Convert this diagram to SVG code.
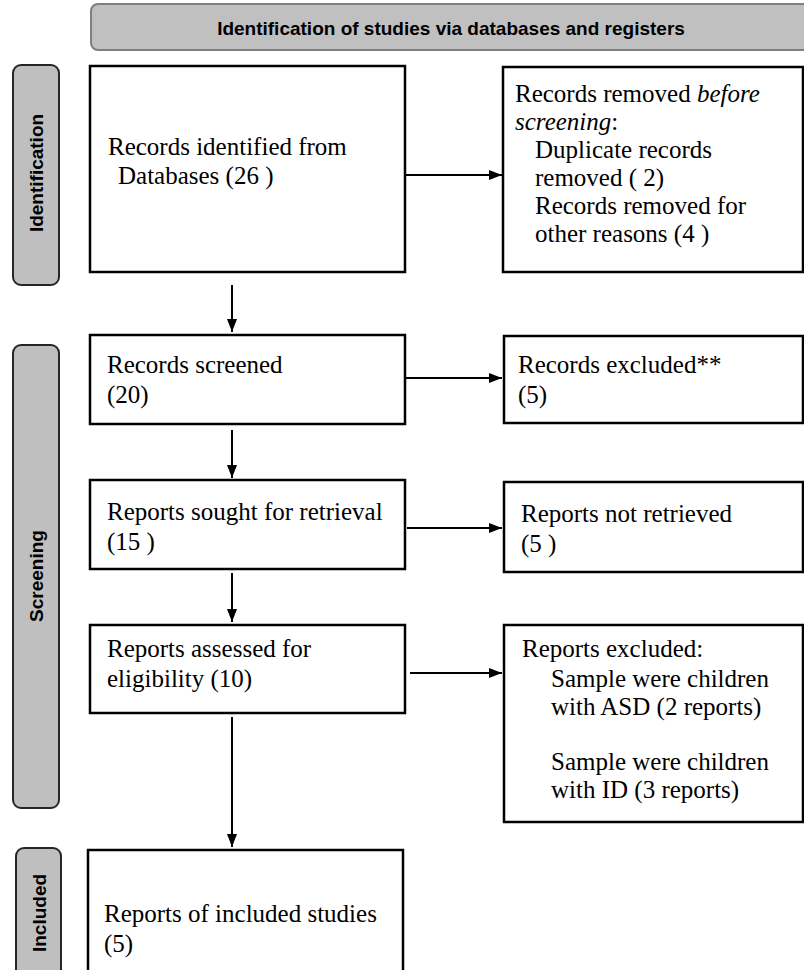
<svg xmlns="http://www.w3.org/2000/svg" width="804" height="970" viewBox="0 0 804 970">
<style>
.box{fill:#fff;stroke:#000;stroke-width:2.5}
.side{fill:#bfbfbf;stroke:#262626;stroke-width:2}
.head{fill:#c0c0c0;stroke:#7f7f7f;stroke-width:2}
.t{font-family:"Liberation Serif","Times New Roman",serif;font-size:25px;fill:#000}
.s{font-family:"Liberation Sans",Arial,sans-serif;font-size:19px;font-weight:bold;fill:#000;text-anchor:middle}
.c{stroke:#000;stroke-width:2;fill:none;marker-end:url(#ah)}
</style>
<defs>
<marker id="ah" viewBox="0 0 13 10" refX="13" refY="5" markerWidth="13" markerHeight="10" markerUnits="userSpaceOnUse" orient="auto">
<path d="M0,0 L13,5 L0,10 z" fill="#000"/>
</marker>
</defs>
<rect width="804" height="970" fill="#fff"/>
<g id="header">
<rect class="head" x="91" y="4" width="730" height="46" rx="7"/>
<text class="s" x="451" y="35">Identification of studies via databases and registers</text>
</g>
<g id="side-identification">
<rect class="side" x="13" y="65" width="46" height="220" rx="8"/>
<text class="s" transform="translate(43,173) rotate(-90)">Identification</text>
</g>
<g id="side-screening">
<rect class="side" x="13" y="345" width="46" height="463" rx="8"/>
<text class="s" transform="translate(43,576) rotate(-90)">Screening</text>
</g>
<g id="side-included">
<rect class="side" x="16" y="848" width="45" height="140" rx="8"/>
<text class="s" transform="translate(46,913) rotate(-90)">Included</text>
</g>
<g id="identified">
<rect class="box" x="90" y="66" width="315" height="206"/>
<text class="t" x="108" y="155">Records identified from</text>
<text class="t" x="118" y="184">Databases (26 )</text>
</g>
<g id="removed">
<rect class="box" x="503" y="67" width="300" height="205"/>
<text class="t" x="515" y="102">Records removed <tspan font-style="italic">before</tspan></text>
<text class="t" x="515" y="130"><tspan font-style="italic">screening</tspan>:</text>
<text class="t" x="535" y="158">Duplicate records</text>
<text class="t" x="535" y="186">removed  ( 2)</text>
<text class="t" x="535" y="214">Records removed for</text>
<text class="t" x="535" y="242">other reasons (4 )</text>
</g>
<g id="screened">
<rect class="box" x="90" y="335" width="315" height="89"/>
<text class="t" x="107" y="373">Records screened</text>
<text class="t" x="107" y="403">(20)</text>
</g>
<g id="excluded">
<rect class="box" x="504" y="336" width="299" height="87"/>
<text class="t" x="518" y="373">Records excluded**</text>
<text class="t" x="518" y="403">(5)</text>
</g>
<g id="sought">
<rect class="box" x="90" y="480" width="315" height="89"/>
<text class="t" x="107" y="520">Reports sought for retrieval</text>
<text class="t" x="107" y="550">(15 )</text>
</g>
<g id="not-retrieved">
<rect class="box" x="504" y="482" width="299" height="90"/>
<text class="t" x="521" y="522">Reports not retrieved</text>
<text class="t" x="521" y="552">(5 )</text>
</g>
<g id="assessed">
<rect class="box" x="90" y="625" width="315" height="88"/>
<text class="t" x="107" y="657">Reports assessed for</text>
<text class="t" x="107" y="687">eligibility (10)</text>
</g>
<g id="reports-excluded">
<rect class="box" x="504" y="625" width="299" height="197"/>
<text class="t" x="522" y="657">Reports excluded:</text>
<text class="t" x="551" y="687">Sample were children</text>
<text class="t" x="551" y="715">with ASD (2 reports)</text>
<text class="t" x="551" y="770">Sample were children</text>
<text class="t" x="551" y="798">with ID (3 reports)</text>
</g>
<g id="included">
<rect class="box" x="88" y="850" width="315" height="140"/>
<text class="t" x="104" y="922">Reports of included studies</text>
<text class="t" x="104" y="952">(5)</text>
</g>
<g id="connectors">
<line class="c" x1="405" y1="175" x2="502" y2="175"/>
<line class="c" x1="232" y1="285" x2="232" y2="332"/>
<line class="c" x1="405" y1="378" x2="502" y2="378"/>
<line class="c" x1="232" y1="430" x2="232" y2="478"/>
<line class="c" x1="407" y1="528" x2="502" y2="528"/>
<line class="c" x1="232" y1="573" x2="232" y2="622"/>
<line class="c" x1="410" y1="673" x2="502" y2="673"/>
<line class="c" x1="232" y1="717" x2="232" y2="847"/>
</g>
</svg>
